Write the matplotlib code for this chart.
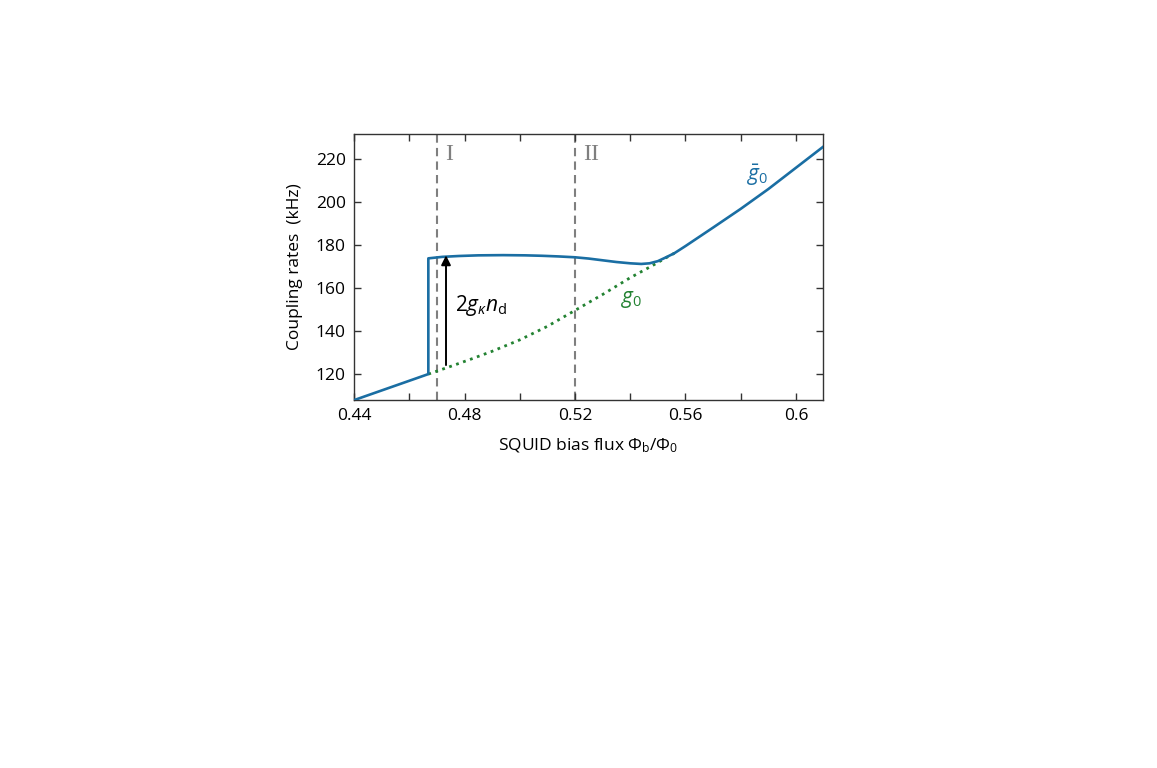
import numpy as np
import matplotlib
matplotlib.use("Agg")
import matplotlib.pyplot as plt
from matplotlib.ticker import MultipleLocator

plt.rcParams['font.family'] = ['Open Sans', 'DejaVu Sans']
plt.rcParams['mathtext.fontset'] = 'custom'
plt.rcParams['mathtext.rm'] = 'Open Sans'
plt.rcParams['mathtext.it'] = 'Open Sans:italic'

# g0 (dotted green)
g0_x = [0.4669, 0.475, 0.482, 0.490, 0.500, 0.510, 0.520, 0.530, 0.540, 0.548, 0.553, 0.556]
g0_y = [120.0, 123.6, 126.8, 130.6, 135.9, 142.2, 149.6, 157.0, 164.8, 170.4, 174.1, 176.2]

# g0 bar (solid blue): lower branch, jump, upper branch, merge
gbar_x = [0.440, 0.4669, 0.4669, 0.472, 0.478, 0.485, 0.494, 0.502, 0.508, 0.514,
          0.520, 0.525, 0.530, 0.535, 0.540, 0.544, 0.547, 0.550, 0.553, 0.556,
          0.560, 0.565, 0.570, 0.580, 0.590, 0.600, 0.610]
gbar_y = [107.9, 120.0, 173.8, 174.5, 174.9, 175.2, 175.3, 175.2, 175.0, 174.7,
          174.3, 173.7, 172.9, 172.1, 171.5, 171.2, 171.5, 172.5, 174.3, 176.2,
          179.5, 183.8, 188.1, 196.8, 206.0, 215.9, 225.8]

regions = [0.47, 0.52]
region_labels = ['I', 'II']

blue = '#1a6ea3'
green = '#238232'
grey = '#7f7f7f'

fig = plt.figure(figsize=(11.57, 7.68), dpi=100)
ax = fig.add_axes([0.306, 0.479, 0.4053, 0.3465])

for xv, lab in zip(regions, region_labels):
    ax.axvline(xv, color=grey, ls=(0, (4, 2.5)), lw=1.5, zorder=1)
    ax.text(xv + 0.0045 + 0.0015 * (len(lab) - 1), 222.3, lab, family='Liberation Serif',
            fontsize=17, color=grey, ha='center', va='center')

ax.plot(g0_x, g0_y, color=green, ls=':', lw=2, zorder=2)
ax.plot(gbar_x, gbar_y, color=blue, lw=1.9, zorder=3, solid_joinstyle='round')

ax.annotate('', xy=(0.4733, 175.2), xytext=(0.4733, 124.2),
            arrowprops=dict(arrowstyle='-|>', color='black', lw=1.4,
                            mutation_scale=14, shrinkA=0, shrinkB=0))
ax.text(0.4766, 152, r'$2g_{\kappa}n_\mathrm{d}$', fontsize=15, va='center', ha='left')
ax.text(0.5405, 154.5, r'$g_\mathrm{0}$', fontsize=15, color=green, ha='center', va='center')
ax.text(0.5862, 212.5, r'$\bar{g}_\mathrm{0}$', fontsize=15, color=blue, ha='center', va='center')

ax.set_xlim(0.44, 0.6098)
ax.set_ylim(107.9, 231.6)
ax.xaxis.set_minor_locator(MultipleLocator(0.02))
ax.yaxis.set_major_locator(MultipleLocator(20))
ax.set_xticks([0.44, 0.48, 0.52, 0.56, 0.60])
ax.set_xticklabels(['0.44', '0.48', '0.52', '0.56', '0.6'])
ax.tick_params(which='both', direction='in', top=True, right=True, length=5,
               width=1, color='#333333', labelsize=12.5, pad=6)
for s in ax.spines.values():
    s.set_color('#333333')
    s.set_linewidth(1)

ax.set_xlabel(r'SQUID bias flux $\Phi_\mathrm{b}/\Phi_\mathrm{0}$', fontsize=12.5, labelpad=9)
ax.set_ylabel('Coupling rates  (kHz)', fontsize=12.5, labelpad=9)

fig.savefig('out.png', dpi=100)
